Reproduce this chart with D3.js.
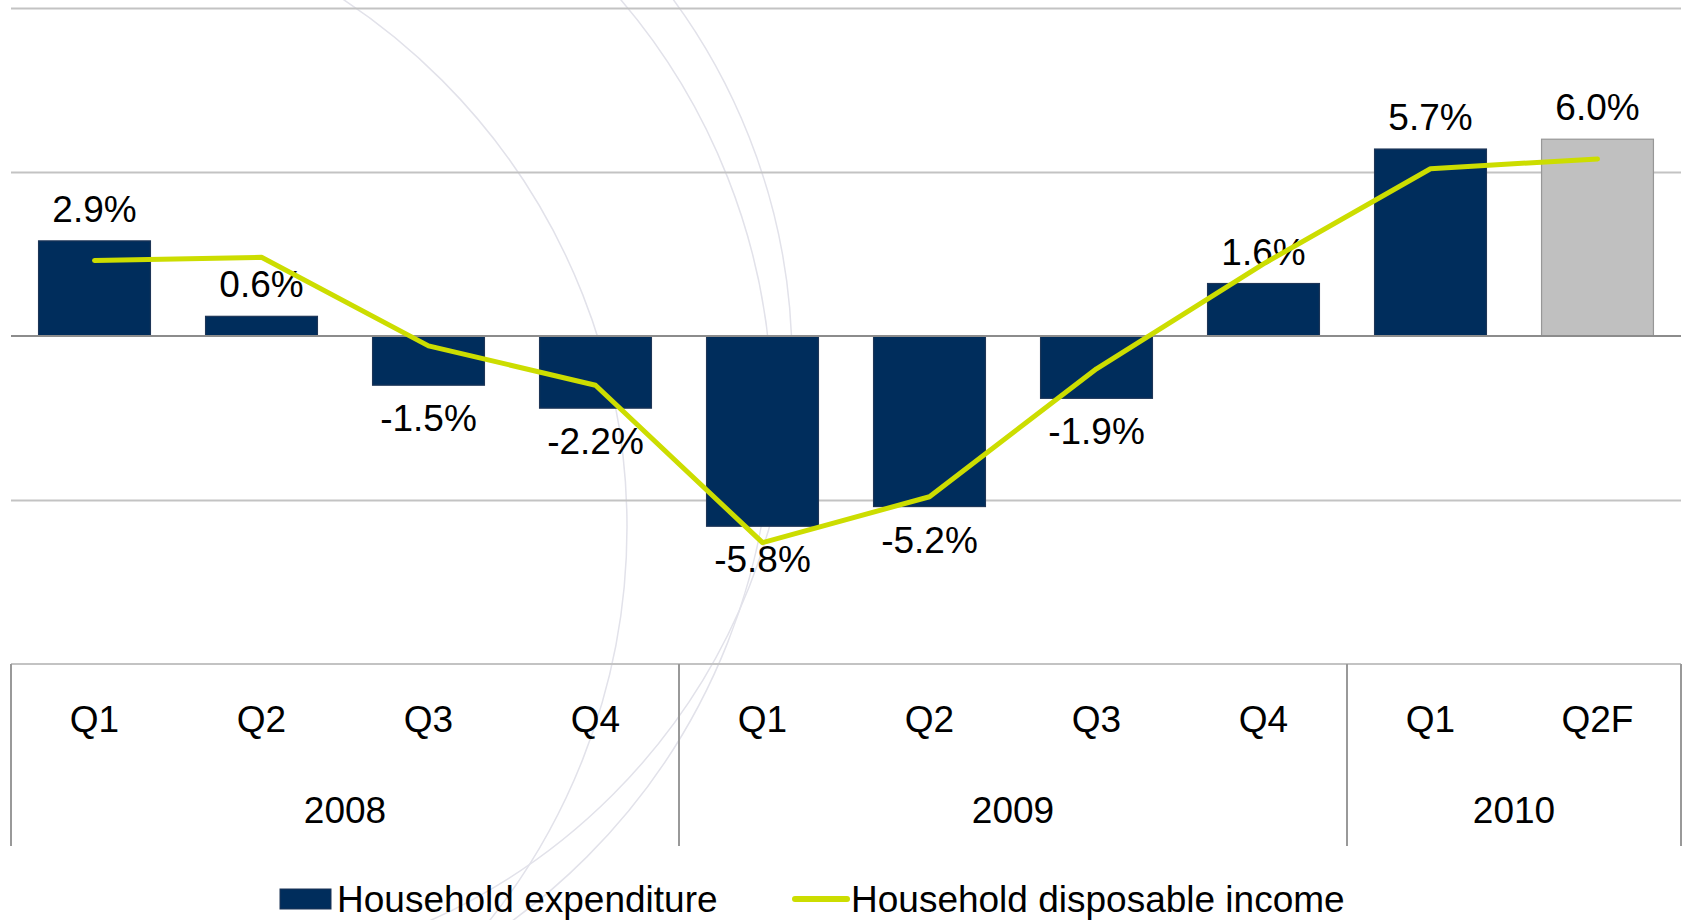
<!DOCTYPE html>
<html>
<head>
<meta charset="utf-8">
<script src="https://cdn.jsdelivr.net/npm/d3@7"></script>
<style>
  body { margin: 0; background: #fff; }
  svg text { font-family: "Liberation Sans", Arial, sans-serif; fill: #000; }
</style>
</head>
<body>
<div id="container"></div>
<script>
// data
var quarters = ["Q1", "Q2", "Q3", "Q4", "Q1", "Q2", "Q3", "Q4", "Q1", "Q2F"];
var years = ["2008", "2009", "2010"];
var yearSpans = [4, 4, 2];
var expenditure = [2.9, 0.6, -1.5, -2.2, -5.8, -5.2, -1.9, 1.6, 5.7, 6.0];
var income = [2.3, 2.4, -0.3, -1.5, -6.3, -4.9, -1.0, 2.2, 5.1, 5.4];
var forecastIndex = 9;
var gridValues = [10, 5, -5];
var seriesNames = ["Household expenditure", "Household disposable income"];

var W = 1685, H = 920;
var plotLeft = 11, plotRight = 1681, plotTop = 8, axisTop = 664, axisBottom = 846;

var svg = d3.select("div#container").append("svg")
  .attr("width", W).attr("height", H);

// faint decorative arcs in the background
var arcs = [[-5, 527, 632], [180, 362, 612], [140, 410, 632]];
svg.append("g").selectAll("circle").data(arcs).enter().append("circle")
  .attr("cx", function(d) { return d[0]; })
  .attr("cy", function(d) { return d[1]; })
  .attr("r", function(d) { return d[2]; })
  .attr("fill", "none")
  .attr("stroke", "#e2e2ea")
  .attr("stroke-width", 1.5);

var x = d3.scaleBand()
  .domain(d3.range(quarters.length))
  .range([plotLeft, plotRight])
  .paddingInner(0.33)
  .paddingOuter(0.165);

var y = d3.scaleLinear()
  .domain([-10, 10])
  .range([axisTop, plotTop]);

// gridlines
var grid = svg.append("g")
  .attr("transform", "translate(" + plotLeft + ",0)")
  .call(d3.axisLeft(y).tickValues(gridValues).tickSize(-(plotRight - plotLeft)).tickFormat(""));
grid.select(".domain").remove();
grid.selectAll("line").attr("stroke", "#c3c3c3").attr("stroke-width", 2);

// category axis box
svg.append("line")
  .attr("x1", plotLeft).attr("x2", plotRight)
  .attr("y1", axisTop).attr("y2", axisTop)
  .attr("stroke", "#c3c3c3").attr("stroke-width", 2);

var bounds = [0];
yearSpans.forEach(function(s, i) { bounds.push(bounds[i] + s); });
var step = x.step();
var xEdge = function(i) { return x(0) - x.paddingOuter() * step + i * step; };

svg.append("g").selectAll("line").data(bounds).enter().append("line")
  .attr("x1", function(d) { return xEdge(d); })
  .attr("x2", function(d) { return xEdge(d); })
  .attr("y1", axisTop).attr("y2", axisBottom)
  .attr("stroke", "#999").attr("stroke-width", 2);

// quarter labels
var qAxis = svg.append("g")
  .attr("transform", "translate(0," + axisTop + ")")
  .call(d3.axisBottom(x).tickSize(0).tickFormat(function(i) { return quarters[i]; }));
qAxis.select(".domain").remove();
qAxis.selectAll("text")
  .attr("y", 731.5 - axisTop).attr("dy", null)
  .style("font-size", "37px")
  .attr("font-family", "Liberation Sans, Arial, sans-serif")
  .attr("fill", "#000");

// year labels
svg.append("g").selectAll("text").data(years).enter().append("text")
  .attr("x", function(d, i) { return (xEdge(bounds[i]) + xEdge(bounds[i + 1])) / 2; })
  .attr("y", 822.5)
  .attr("text-anchor", "middle")
  .style("font-size", "37px")
  .text(function(d) { return d; });

// bars
svg.append("g").selectAll("rect").data(expenditure).enter().append("rect")
  .attr("x", function(d, i) { return x(i); })
  .attr("y", function(d) { return y(Math.max(0, d)); })
  .attr("width", x.bandwidth())
  .attr("height", function(d) { return Math.abs(y(d) - y(0)); })
  .attr("fill", function(d, i) { return i >= forecastIndex ? "#c0c0c0" : "#002d5c"; })
  .attr("stroke", function(d, i) { return i >= forecastIndex ? "#979797" : "#1d3557"; })
  .attr("stroke-width", 1.2);

// zero line
svg.append("line")
  .attr("x1", plotLeft).attr("x2", plotRight)
  .attr("y1", y(0)).attr("y2", y(0))
  .attr("stroke", "#8c8c8c").attr("stroke-width", 2);

// value labels
svg.append("g").selectAll("text").data(expenditure).enter().append("text")
  .attr("x", function(d, i) { return x(i) + x.bandwidth() / 2; })
  .attr("y", function(d) { return d >= 0 ? y(d) - 19 : y(d) + 46; })
  .attr("text-anchor", "middle")
  .style("font-size", "37px")
  .text(function(d) { return d.toFixed(1) + "%"; });

// disposable income line
var line = d3.line()
  .x(function(d, i) { return x(i) + x.bandwidth() / 2; })
  .y(function(d) { return y(d); });

svg.append("path")
  .datum(income)
  .attr("d", line)
  .attr("fill", "none")
  .attr("stroke", "#ccdd00")
  .attr("stroke-width", 5)
  .attr("stroke-linecap", "round")
  .attr("stroke-linejoin", "round");

// legend
var legend = svg.append("g");
legend.append("rect")
  .attr("x", 280).attr("y", 889).attr("width", 51).attr("height", 20)
  .attr("fill", "#002d5c").attr("stroke", "#1d3557");
legend.append("text")
  .attr("x", 337).attr("y", 912)
  .style("font-size", "37px")
  .text(seriesNames[0]);
legend.append("line")
  .attr("x1", 795).attr("x2", 847).attr("y1", 899).attr("y2", 899)
  .attr("stroke", "#ccdd00").attr("stroke-width", 6).attr("stroke-linecap", "round");
legend.append("text")
  .attr("x", 851).attr("y", 912)
  .style("font-size", "37px")
  .text(seriesNames[1]);
</script>
</body>
</html>
